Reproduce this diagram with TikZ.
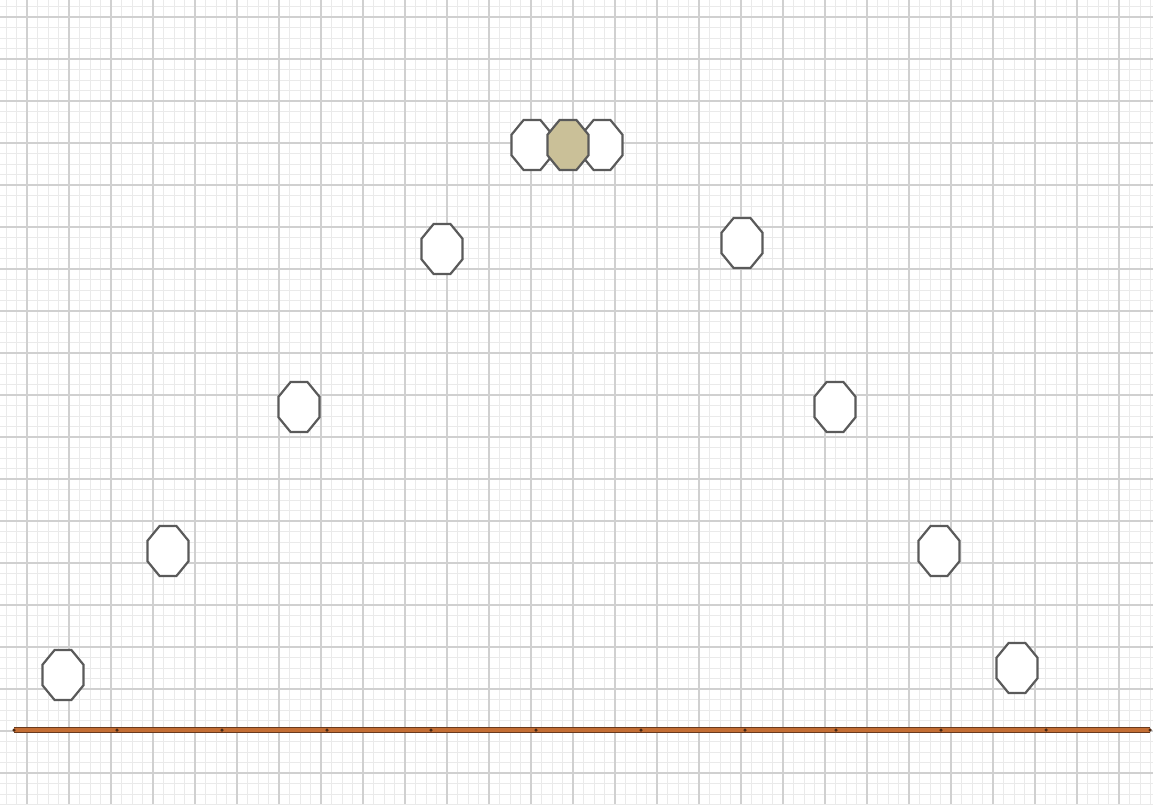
\documentclass[tikz,border=0pt]{standalone}
\usetikzlibrary{shapes.geometric}
\definecolor{minorgrid}{RGB}{234,234,234}
\definecolor{majorgrid}{RGB}{208,208,208}
\definecolor{octline}{RGB}{90,90,90}
\definecolor{tanfill}{RGB}{202,192,152}
\definecolor{rodout}{RGB}{105,58,30}
\definecolor{rodin}{RGB}{196,110,52}
\tikzset{
  oct/.style={regular polygon, regular polygon sides=8, minimum size=54pt, inner sep=0pt,
    xscale=0.82, draw=octline, line width=2.2pt, fill=white},
  octtan/.style={oct, fill=tanfill},
  minorline/.style={draw=minorgrid, line width=0.8pt},
  majorline/.style={draw=majorgrid, line width=1.4pt},
  tickdot/.style={circle, fill=rodout!70!black, inner sep=0pt, minimum size=3.5pt}
}
\begin{document}
\begin{tikzpicture}[x=1pt,y=-1pt]
\useasboundingbox (0,0) rectangle (1153,804);
\fill[white] (0,0) rectangle (1153,804);
% minor grid
\foreach \i in {-3,...,108} {\draw[minorline] ({27+10.5*\i},0) -- ({27+10.5*\i},804);}
\foreach \j in {-2,...,76} {\draw[minorline] (0,{17+10.5*\j}) -- (1153,{17+10.5*\j});}
% major grid
\foreach \i in {0,...,26} {\draw[majorline] ({27+42*\i},0) -- ({27+42*\i},804);}
\foreach \j in {0,...,18} {\draw[majorline] (0,{17+42*\j}) -- (1153,{17+42*\j});}
% rod
\coordinate (rodL) at (14,730);
\coordinate (rodR) at (1150,730);
\draw[rodout, line width=6pt] (rodL) -- (rodR);
\draw[rodin, line width=3.6pt] (rodL) -- (rodR);
\foreach \x in {14,117,222,327,431,536,641,745,836,941,1046,1150} {\node[tickdot] at (\x,730) {};}
% octagons
\node[oct] (o1) at (63,675) {};
\node[oct] (o2) at (168,551) {};
\node[oct] (o3) at (299,407) {};
\node[oct] (o4) at (442,249) {};
\node[oct] (o5) at (532,145) {};
\node[oct] (o7) at (602,145) {};
\node[octtan] (o6) at (568,145) {};
\node[oct] (o8) at (742,243) {};
\node[oct] (o9) at (835,407) {};
\node[oct] (o10) at (939,551) {};
\node[oct] (o11) at (1017,668) {};
\end{tikzpicture}
\end{document}
